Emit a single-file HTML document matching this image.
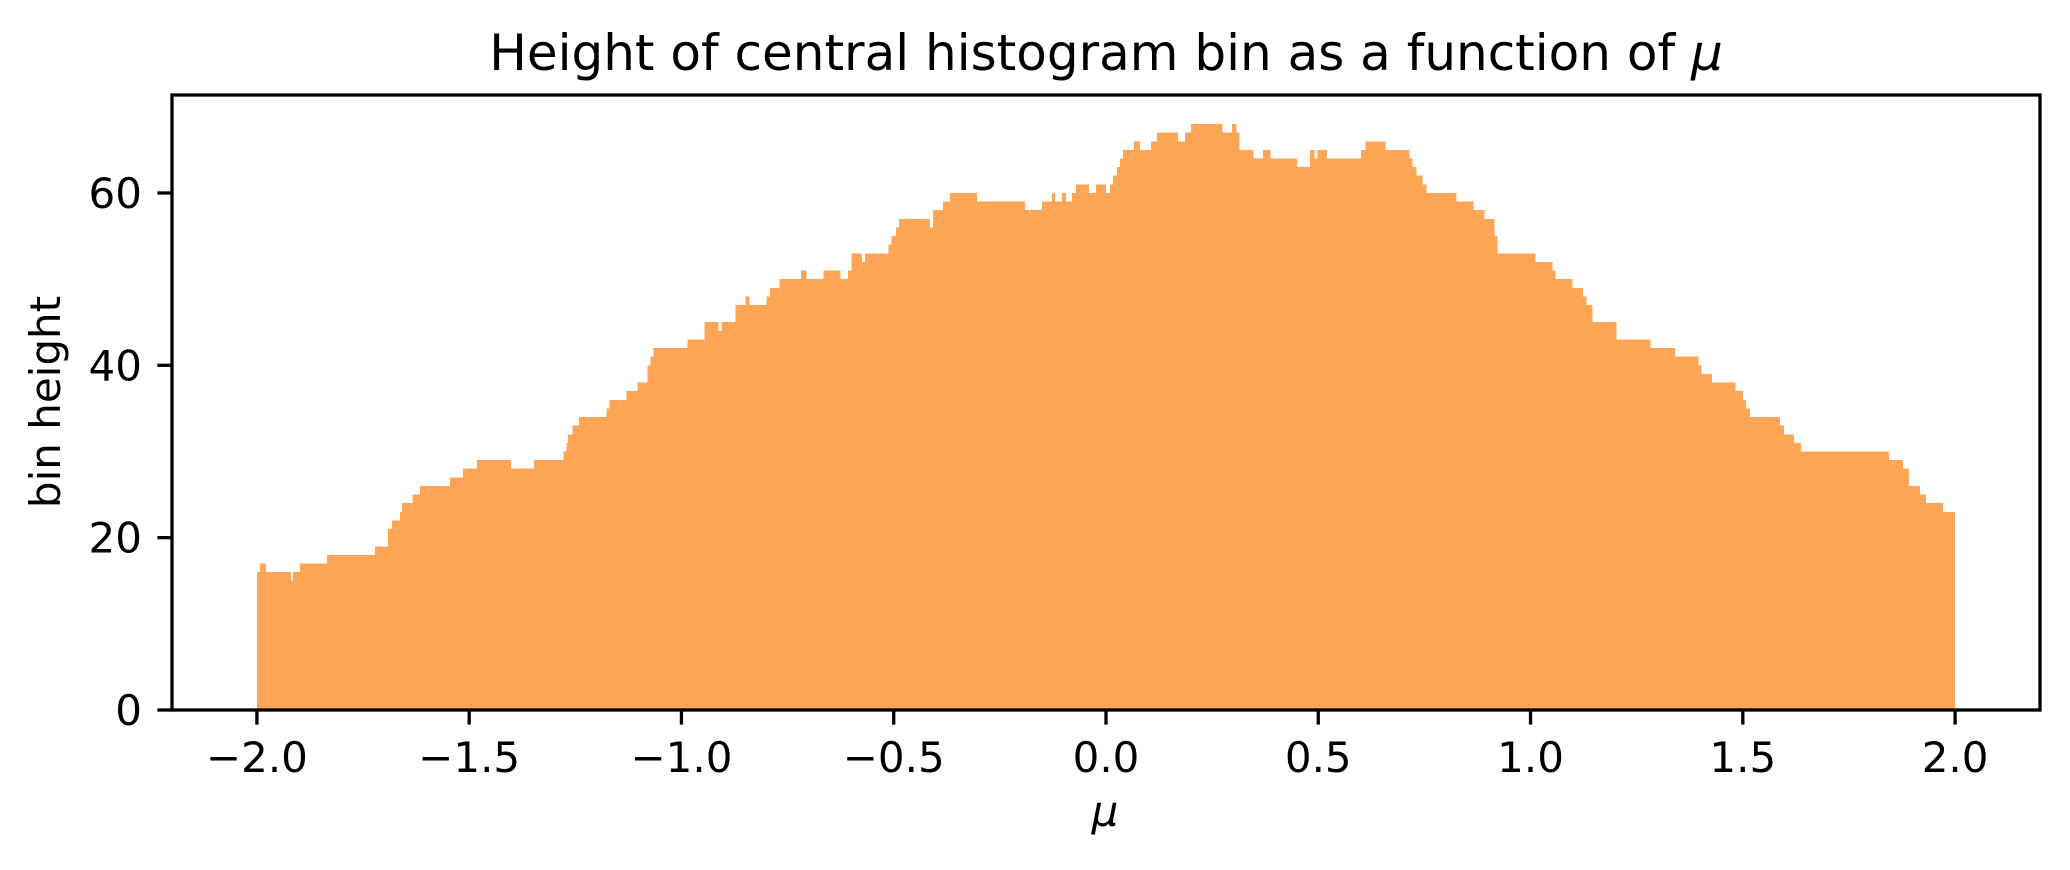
<!DOCTYPE html>
<html>
<head>
<meta charset="utf-8">
<style>
  html, body { margin: 0; padding: 0; background: #ffffff; }
  svg { display: block; }
  text { font-family: "DejaVu Sans", "Liberation Sans", sans-serif; fill: #000; }
</style>
</head>
<body>
<svg id="chart" width="2070" height="870" viewBox="0 0 2070 870" xmlns="http://www.w3.org/2000/svg">
  <rect x="0" y="0" width="2070" height="870" fill="#ffffff"/>
  <text x="1106" y="70" font-size="50" text-anchor="middle">Height of central histogram bin as a function of <tspan font-style="italic">μ</tspan></text>
  <g id="marks"></g>
  <g id="xaxis"></g>
  <g id="yaxis"></g>
  <rect x="172" y="95" width="1868" height="615" fill="none" stroke="#000" stroke-width="3.3"/>
  <text x="1105" y="826" font-size="42" font-style="italic" text-anchor="middle">μ</text>
  <text transform="translate(60,402) rotate(-90)" font-size="42" text-anchor="middle">bin height</text>
</svg>
<script>
const runStarts = [-2.000,-1.993,-1.979,-1.920,-1.915,-1.899,-1.835,-1.722,-1.691,-1.682,-1.663,-1.658,-1.634,-1.616,-1.545,-1.514,-1.481,-1.401,-1.347,-1.278,-1.271,-1.267,-1.257,-1.241,-1.177,-1.170,-1.130,-1.104,-1.080,-1.073,-1.066,-0.986,-0.946,-0.913,-0.906,-0.873,-0.849,-0.840,-0.800,-0.792,-0.769,-0.719,-0.705,-0.665,-0.625,-0.608,-0.599,-0.575,-0.568,-0.512,-0.505,-0.495,-0.488,-0.415,-0.408,-0.384,-0.368,-0.304,-0.191,-0.151,-0.127,-0.120,-0.104,-0.094,-0.080,-0.071,-0.040,-0.024,0.000,0.009,0.017,0.026,0.033,0.040,0.066,0.080,0.106,0.120,0.170,0.186,0.200,0.274,0.297,0.307,0.314,0.347,0.370,0.387,0.450,0.481,0.491,0.498,0.521,0.601,0.611,0.658,0.715,0.722,0.731,0.745,0.755,0.825,0.866,0.892,0.915,0.922,1.012,1.052,1.059,1.099,1.123,1.132,1.146,1.203,1.283,1.340,1.396,1.403,1.427,1.483,1.500,1.507,1.517,1.587,1.597,1.620,1.637,1.844,1.877,1.892,1.917,1.932,1.972];
const runHeights = [16,17,16,15,16,17,18,19,21,22,23,24,25,26,27,28,29,28,29,30,31,32,33,34,35,36,37,38,40,41,42,43,45,44,45,47,48,47,48,49,50,51,50,51,50,51,53,52,53,54,55,56,57,56,58,59,60,59,58,59,60,59,60,59,60,61,60,61,60,61,62,63,64,65,66,65,66,67,66,67,68,67,68,67,65,64,65,64,63,65,64,65,64,65,66,65,64,63,62,61,60,59,58,57,55,53,52,51,50,49,48,47,45,43,42,41,40,39,38,37,36,35,34,33,32,31,30,29,28,26,25,24,23];
const rangeEnd = 2.0;
const xTicks = [-2.0,-1.5,-1.0,-0.5,0.0,0.5,1.0,1.5,2.0];
const xTickLabels = ["−2.0","−1.5","−1.0","−0.5","0.0","0.5","1.0","1.5","2.0"];
const yTicks = [0,20,40,60];
const yTickLabels = ["0","20","40","60"];

const NS = "http://www.w3.org/2000/svg";
const X0 = 172, X1 = 2040, Y0 = 710, Y1 = 95;
const xMin = -2.2, xMax = 2.2, yMin = 0, yMax = 71.37;
function xs(v){ return X0 + (v - xMin) / (xMax - xMin) * (X1 - X0); }
function ys(v){ return Y0 - (v - yMin) / (yMax - yMin) * (Y0 - Y1); }

const marks = document.getElementById('marks');
let d = "M" + xs(runStarts[0]) + "," + ys(0);
for (let i = 0; i < runStarts.length; i++) {
  const xa = xs(runStarts[i]);
  const xb = xs(i + 1 < runStarts.length ? runStarts[i + 1] : rangeEnd);
  const yv = ys(runHeights[i]);
  d += " L" + xa + "," + yv + " L" + xb + "," + yv;
}
d += " L" + xs(rangeEnd) + "," + ys(0) + " Z";
const area = document.createElementNS(NS, 'path');
area.setAttribute('d', d);
area.setAttribute('fill', '#ffa556');
area.setAttribute('shape-rendering', 'crispEdges');


marks.appendChild(area);

const xaxis = document.getElementById('xaxis');
xTicks.forEach((t, i) => {
  const x = xs(t);
  const ln = document.createElementNS(NS, 'line');
  ln.setAttribute('x1', x); ln.setAttribute('x2', x);
  ln.setAttribute('y1', Y0); ln.setAttribute('y2', Y0 + 14.6);
  ln.setAttribute('stroke', '#000'); ln.setAttribute('stroke-width', '3.3');
  
  
  xaxis.appendChild(ln);
  const tx = document.createElementNS(NS, 'text');
  tx.setAttribute('x', x); tx.setAttribute('y', 772);
  tx.setAttribute('font-size', '42'); tx.setAttribute('text-anchor', 'middle');
  tx.textContent = xTickLabels[i];
  
  
  xaxis.appendChild(tx);
});

const yaxis = document.getElementById('yaxis');
yTicks.forEach((t, i) => {
  const y = ys(t);
  const ln = document.createElementNS(NS, 'line');
  ln.setAttribute('x1', X0 - 14.6); ln.setAttribute('x2', X0);
  ln.setAttribute('y1', y); ln.setAttribute('y2', y);
  ln.setAttribute('stroke', '#000'); ln.setAttribute('stroke-width', '3.3');
  
  
  yaxis.appendChild(ln);
  const tx = document.createElementNS(NS, 'text');
  tx.setAttribute('x', 142); tx.setAttribute('y', y + 15);
  tx.setAttribute('font-size', '42'); tx.setAttribute('text-anchor', 'end');
  tx.textContent = yTickLabels[i];
  
  
  yaxis.appendChild(tx);
});
</script>
</body>
</html>
